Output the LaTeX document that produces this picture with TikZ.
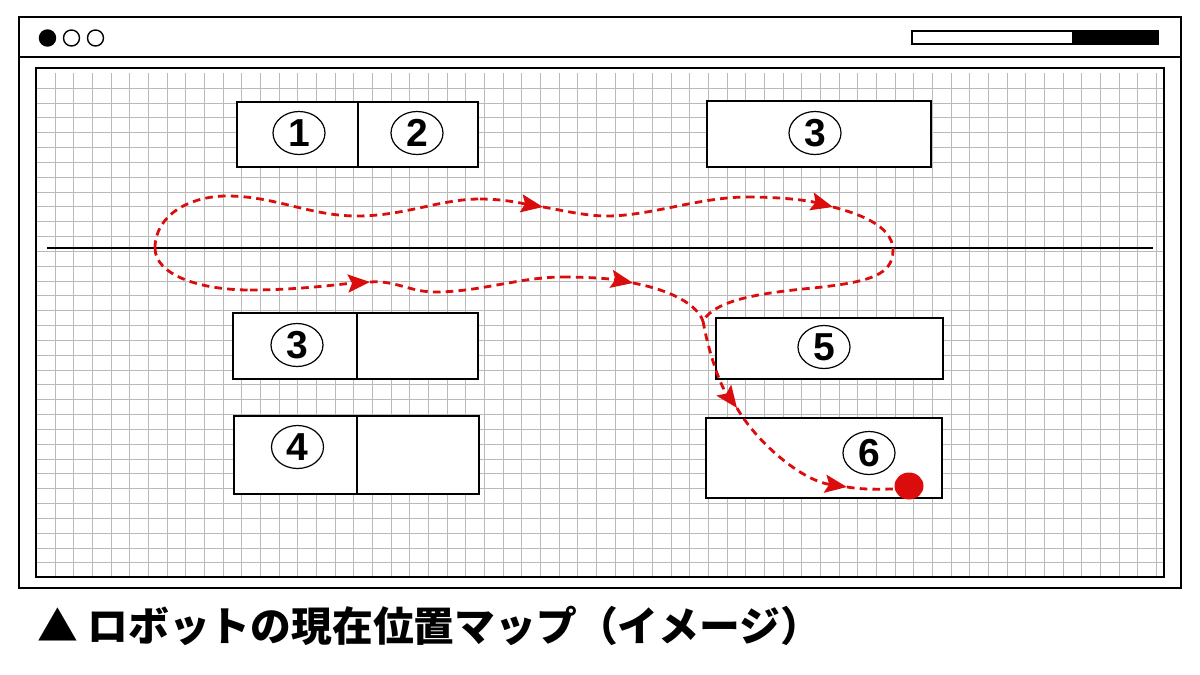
\documentclass[tikz,border=0pt]{standalone}
\usepackage{xcolor}
\usepackage{fontspec}
\usepackage{tikz}
\usetikzlibrary{shapes,arrows,arrows.meta}
\usetikzlibrary{positioning}
\newfontfamily\cjk{Noto Sans CJK JP}
\newfontfamily\digitfont{Liberation Sans}
\definecolor{routered}{RGB}{218,12,12}
\definecolor{gridgray}{RGB}{185,185,185}

\begin{document}
\begin{tikzpicture}[x=0.5pt,y=-0.5pt]
\useasboundingbox (0,0) rectangle (1200,675);

\def\px{0.5pt}
\tikzstyle{cell} = [draw, fill=white, rectangle, line width=1.4*\px, inner sep=0pt];
\tikzstyle{num} = [draw, ellipse, line width=1.2*\px, inner sep=0pt,
	minimum width=52*\px, minimum height=43*\px,
	font=\digitfont\bfseries\fontsize{19.5pt}{19.5pt}\selectfont];
\tikzstyle{dot} = [draw, circle, line width=1.4*\px, minimum size=16*\px, inner sep=0pt];
\tikzstyle{route} = [routered, line width=1.4pt, dash pattern=on 3.8pt off 2.6pt];
\tikzstyle{tip} = [-{Stealth[length=11pt,width=9pt,inset=2pt]}];

% window frame
\draw[line width=1pt] (19,17) rectangle (1181,588);
\draw[line width=1pt] (19,57) -- (1181,57);
\node[dot,fill=black] (d1) at (47.5,38) {};
\node[dot] (d2) at (71.5,38) {};
\node[dot] (d3) at (95.5,38) {};
\draw[line width=1pt] (912,31) rectangle (1158,44);
\fill (1072,31) rectangle (1158,44);

% map area
\draw[line width=1pt,fill=white] (36,68) rectangle (1164,577);
\foreach \i in {0,...,59}
	\draw[gridgray,line width=0.5pt] (55+18.67*\i,73) -- (55+18.67*\i,576);
\foreach \j in {1,...,33}
	\draw[gridgray,line width=0.5pt] (37,73.5+14.83*\j) -- (1163,73.5+14.83*\j);
\draw[line width=0.7pt] (47,248) -- (1153,248);
\draw[line width=1pt] (36,68) rectangle (1164,577);

% shelves
\node[cell,minimum width=121*\px,minimum height=65*\px] (s1) at (297.5,134.5) {};
\node[cell,minimum width=120*\px,minimum height=65*\px] (s2) at (418,134.5) {};
\node[cell,minimum width=224*\px,minimum height=66*\px] (s3r) at (819,134) {};
\node[cell,minimum width=124*\px,minimum height=66*\px] (s3) at (295,346) {};
\node[cell,minimum width=121*\px,minimum height=66*\px] (s3b) at (417.5,346) {};
\node[cell,minimum width=123*\px,minimum height=78*\px] (s4) at (295.5,455) {};
\node[cell,minimum width=122*\px,minimum height=78*\px] (s4b) at (418,455) {};
\node[cell,minimum width=227*\px,minimum height=61*\px] (s5) at (829.5,348.5) {};
\node[cell,minimum width=236*\px,minimum height=80*\px] (s6) at (824,458) {};

\node[num] (n1) at (299,133) {1};
\node[num] (n2) at (417,133) {2};
\node[num] (n3r) at (815,133) {3};
\node[num] (n3) at (297,345) {3};
\node[num] (n4) at (297.5,447) {4};
\node[num] (n5) at (824,347) {5};
\node[num] (n6) at (869,453) {6};

% robot route
\coordinate (loopL) at (155,248);
\coordinate (t1) at (227,196);
\coordinate (t2) at (357,216);
\coordinate (t3) at (480,199);
\coordinate (t4) at (543,207);
\coordinate (t5) at (607,216);
\coordinate (t6) at (747,197);
\coordinate (t7) at (833,207);
\coordinate (loopR) at (893,250);
\coordinate (t8) at (813,288);
\coordinate (fork) at (703,321);
\coordinate (b1) at (250,290);
\coordinate (b2) at (370,282);
\coordinate (b3) at (435,292);
\coordinate (b4) at (563,277);
\coordinate (b5) at (633,283);
\coordinate (b6) at (737,408);
\coordinate (b7) at (847,487);
\coordinate (b8) at (900,489);

\draw[route] (loopL) .. controls (155,215) and (190,196) .. (t1)
	.. controls (275,196) and (310,216) .. (t2)
	.. controls (405,216) and (440,199) .. (t3);
\draw[route,tip] (t3) .. controls (505,199) and (525,204) .. (t4);
\draw[route] (t4) .. controls (561,210) and (585,216) .. (t5)
	.. controls (650,216) and (700,197) .. (t6);
\draw[route,tip] (t6) .. controls (785,197) and (810,201) .. (t7);
\draw[route] (t7) .. controls (856,213) and (893,225) .. (loopR)
	.. controls (893,275) and (870,282) .. (t8)
	.. controls (760,293) and (715,300) .. (fork);

\draw[route] (loopL) .. controls (155,275) and (200,290) .. (b1);
\draw[route,tip] (b1) .. controls (300,290) and (340,284) .. (b2);
\draw[route] (b2) .. controls (395,280) and (410,292) .. (b3)
	.. controls (480,292) and (520,277) .. (b4);
\draw[route,tip] (b4) .. controls (590,277) and (612,279) .. (b5);
\draw[route] (b5) .. controls (660,288) and (695,300) .. (fork);
\draw[route,tip] (fork) .. controls (708,350) and (720,385) .. (b6);
\draw[route,tip] (b6) .. controls (755,440) and (800,480) .. (b7);
\draw[route] (b7) .. controls (865,490) and (880,489) .. (b8);

\node[ellipse,fill=routered,minimum width=29*\px,minimum height=27*\px,inner sep=0pt] (bot) at (909,486) {};

% caption
\node[anchor=west,inner sep=0pt,font=\cjk\bfseries\fontsize{20.4pt}{22pt}\selectfont] (caption) at (37,626)
	{▲ ロボットの現在位置マップ（イメージ）};

\end{tikzpicture}
\end{document}
